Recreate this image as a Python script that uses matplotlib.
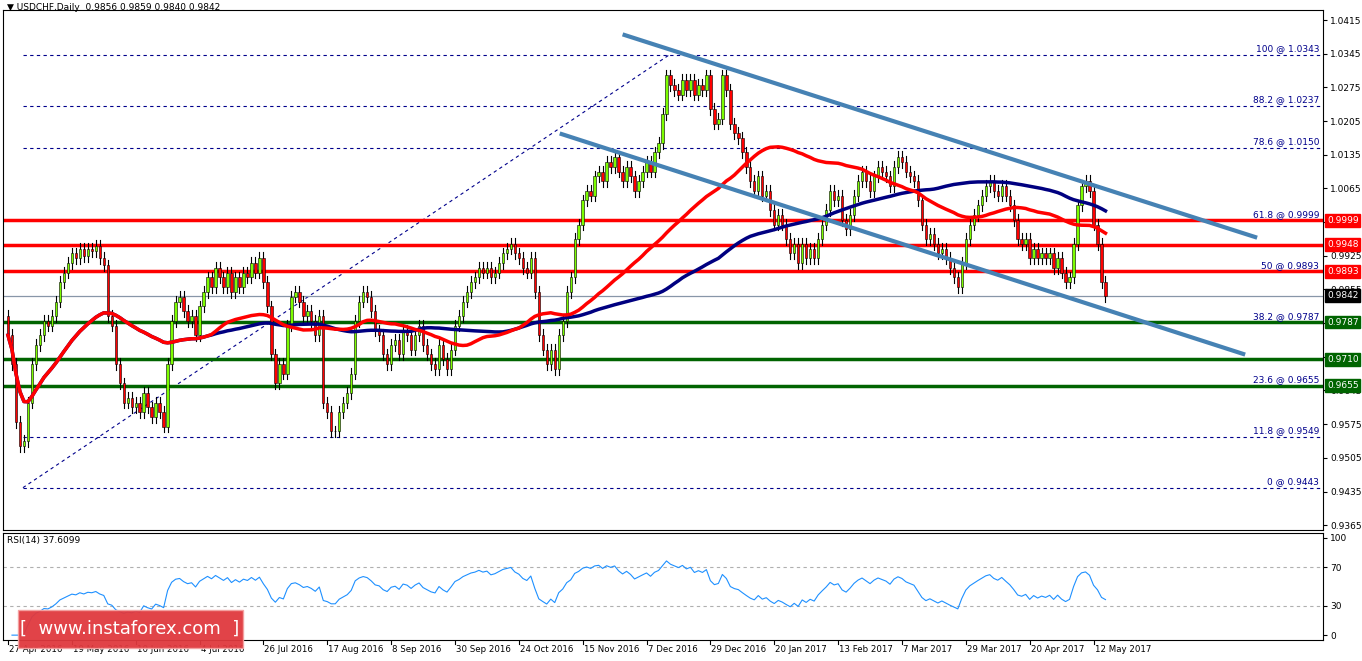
import numpy as np
import pandas as pd
import matplotlib
matplotlib.use("Agg")
import matplotlib.pyplot as plt
from matplotlib.patches import Rectangle

closes = [
0.9760,0.9700,0.9580,0.9530,0.9540,0.9620,0.9700,0.9740,0.9760,0.9790,
0.9780,0.9800,0.9830,0.9870,0.9890,0.9910,0.9930,0.9920,0.9940,0.9925,
0.9940,0.9935,0.9945,0.9920,0.9905,0.9800,0.9780,0.9700,0.9660,0.9620,
0.9630,0.9610,0.9620,0.9600,0.9640,0.9610,0.9590,0.9620,0.9600,0.9570,
0.9700,0.9790,0.9830,0.9840,0.9810,0.9790,0.9800,0.9760,0.9820,0.9850,
0.9880,0.9860,0.9900,0.9880,0.9860,0.9890,0.9850,0.9880,0.9860,0.9890,
0.9880,0.9910,0.9890,0.9920,0.9870,0.9820,0.9720,0.9660,0.9700,0.9680,
0.9780,0.9840,0.9850,0.9830,0.9800,0.9810,0.9790,0.9760,0.9800,0.9620,
0.9600,0.9560,0.9560,0.9600,0.9620,0.9640,0.9680,0.9790,0.9830,0.9850,
0.9840,0.9810,0.9770,0.9760,0.9720,0.9700,0.9740,0.9750,0.9720,0.9770,
0.9760,0.9730,0.9760,0.9780,0.9740,0.9720,0.9700,0.9690,0.9740,0.9710,
0.9690,0.9730,0.9780,0.9800,0.9830,0.9850,0.9870,0.9880,0.9900,0.9890,
0.9900,0.9880,0.9890,0.9910,0.9930,0.9940,0.9950,0.9930,0.9920,0.9900,
0.9890,0.9920,0.9850,0.9760,0.9730,0.9700,0.9730,0.9690,0.9760,0.9790,
0.9850,0.9880,0.9960,0.9990,1.0040,1.0060,1.0050,1.0090,1.0100,1.0080,
1.0120,1.0110,1.0130,1.0100,1.0080,1.0110,1.0090,1.0060,1.0080,1.0100,
1.0120,1.0100,1.0140,1.0160,1.0220,1.0300,1.0280,1.0270,1.0260,1.0290,
1.0270,1.0290,1.0260,1.0280,1.0270,1.0300,1.0230,1.0200,1.0210,1.0300,
1.0270,1.0200,1.0180,1.0170,1.0140,1.0110,1.0080,1.0060,1.0090,1.0050,
1.0060,1.0020,0.9990,1.0010,0.9990,0.9960,0.9930,0.9950,0.9910,0.9950,
0.9920,0.9940,0.9920,0.9960,0.9990,1.0020,1.0060,1.0040,1.0050,1.0000,
0.9980,1.0010,1.0050,1.0080,1.0100,1.0080,1.0060,1.0090,1.0110,1.0100,
1.0090,1.0070,1.0110,1.0130,1.0120,1.0100,1.0090,1.0080,1.0040,0.9990,
0.9960,0.9970,0.9950,0.9930,0.9940,0.9920,0.9900,0.9880,0.9860,0.9910,
0.9960,0.9990,1.0010,1.0030,1.0050,1.0070,1.0080,1.0060,1.0050,1.0070,
1.0050,1.0030,1.0000,0.9960,0.9950,0.9960,0.9920,0.9940,0.9920,0.9930,
0.9920,0.9930,0.9900,0.9920,0.9890,0.9870,0.9880,0.9950,1.0030,1.0070,
1.0080,1.0060,0.9990,0.9950,0.9870,0.9842]
first_open = 0.9800

date_labels = ["27 Apr 2016","19 May 2016","10 Jun 2016","4 Jul 2016","26 Jul 2016",
  "17 Aug 2016","8 Sep 2016","30 Sep 2016","24 Oct 2016","15 Nov 2016","7 Dec 2016",
  "29 Dec 2016","20 Jan 2017","13 Feb 2017","7 Mar 2017","29 Mar 2017","20 Apr 2017","12 May 2017"]
date_idx = [0,16,32,48,64,80,96,112,128,144,160,176,192,208,224,240,256,272]

fib_levels = [1.0343,1.0237,1.0150,0.9999,0.9893,0.9787,0.9655,0.9549,0.9443]
fib_names = ["100","88.2","78.6","61.8","50","38.2","23.6","11.8","0"]
red_levels = [0.9999,0.9948,0.9893]
green_levels = [0.9787,0.9710,0.9655]
price_ticks = [1.0415,1.0345,1.0275,1.0205,1.0135,1.0065,0.9995,0.9925,0.9855,0.9785,0.9715,0.9645,0.9575,0.9505,0.9435,0.9365]
upper_ch = ([154.5,312.5],[1.0384,0.9964])
lower_ch = ([138.75,309.5],[1.0178,0.9721])
fib_diag = ([3.75,165.75],[0.9443,1.0343])
last_price = 0.9842

c = np.array(closes)
o = np.concatenate([[first_open], c[:-1]])
n = len(c)
idx = np.arange(n)
wick = 0.0012
h = np.maximum(o, c) + wick
l = np.minimum(o, c) - wick

s = pd.Series(c)
ma_fast = s.rolling(50, min_periods=1).mean()
ma_slow = s.rolling(100, min_periods=1).mean()
d = s.diff()
up = d.clip(lower=0); dn = -d.clip(upper=0)
rs = up.ewm(alpha=1/14, adjust=False).mean() / dn.ewm(alpha=1/14, adjust=False).mean()
rsi = 100 - 100/(1+rs)

W, H = 1362, 661
fig = plt.figure(figsize=(W/100, H/100), dpi=100)
L, R = 3/W, 1323/W
ax = fig.add_axes([L, 1-530/H, R-L, 520/H])
ax2 = fig.add_axes([L, 1-640/H, R-L, 107/H])
xlim = (-1.25, 329.5)

for a in (ax, ax2):
    a.set_xlim(*xlim)
    a.yaxis.tick_right()
    a.tick_params(axis='y', labelsize=6.5, length=3, pad=2)
    a.set_xticks([])
ax.set_ylim(0.9355, 1.0436)
ax.set_yticks(price_ticks)
ax.set_yticklabels([f"{v:.4f}" for v in price_ticks])

for v, nm in zip(fib_levels, fib_names):
    ax.plot([3.75, xlim[1]], [v, v], color='#00008B', lw=0.8, ls=(0, (3, 3)), zorder=1)
    ax.text(xlim[1]-1, v+0.0003, f"{nm} @ {v:.4f}", ha='right', va='bottom', fontsize=6.5, color='#00008B')
ax.plot(*fib_diag, color='#00008B', lw=0.8, ls=(0, (3, 3)), zorder=1)
ax.axhline(last_price, color='#8896A8', lw=0.9, zorder=1)
for v in red_levels:
    ax.axhline(v, color='#FF0000', lw=2.5, zorder=2)
for v in green_levels:
    ax.axhline(v, color='#006400', lw=2.5, zorder=2)

for i in idx:
    ax.plot([i, i], [l[i], h[i]], color='black', lw=0.8, zorder=3)
    col = '#7CFC00' if c[i] >= o[i] else '#FF0000'
    ax.add_patch(Rectangle((i-0.3, min(o[i], c[i])), 0.6, max(abs(c[i]-o[i]), 0.00015),
                           facecolor=col, edgecolor='black', lw=0.4, zorder=4))

ax.plot(idx, ma_slow, color='#000080', lw=2.5, zorder=5)
ax.plot(idx, ma_fast, color='#FF0000', lw=2.5, zorder=6)
ax.plot(*upper_ch, color='#4682B4', lw=3, zorder=7)
ax.plot(*lower_ch, color='#4682B4', lw=3, zorder=7)

def tag(v, col):
    ax.text(1.003, v, f"{v:.4f}", transform=ax.get_yaxis_transform(), ha='left', va='center',
            fontsize=6.5, color='white', bbox=dict(boxstyle='square,pad=0.2', fc=col, ec=col), clip_on=False, zorder=10)
for v in red_levels: tag(v, '#FF0000')
for v in green_levels: tag(v, '#006400')
tag(last_price, 'black')

fig.text(7/W, 1-8/H, "▼ USDCHF,Daily  0.9856 0.9859 0.9840 0.9842", fontsize=6.5, va='center')

ax2.set_ylim(-5, 105)
ax2.set_yticks([0, 30, 70, 100])
ax2.axhline(70, color='#B0B0B0', lw=0.8, ls=(0, (3, 3)))
ax2.axhline(30, color='#B0B0B0', lw=0.8, ls=(0, (3, 3)))
ax2.plot(idx, rsi, color='#1E90FF', lw=0.8)
ax2.text(0.003, 0.97, "RSI(14) 37.6099", transform=ax2.transAxes, fontsize=6.5, va='top')

for i, lab in zip(date_idx, date_labels):
    xpix = L*W + (i - xlim[0])/(xlim[1]-xlim[0])*(R-L)*W
    fig.text(xpix/W + 1/W, 1-649/H, lab, fontsize=6.2, va='center', ha='left')
    fig.add_artist(plt.Line2D([xpix/W, xpix/W], [1-641/H, 1-644/H], color='black', lw=0.8))

fig.patches.append(Rectangle((18/W, 1-648/H), 225/W, 38/H, transform=fig.transFigure,
                             fc='#E0393E', ec='#F4A0A0', lw=1, alpha=0.95, zorder=20))
fig.text(130/W, 1-629/H, "[  www.instaforex.com  ]", color='white', fontsize=13,
         ha='center', va='center', zorder=21)

fig.savefig("out.png", dpi=100)
